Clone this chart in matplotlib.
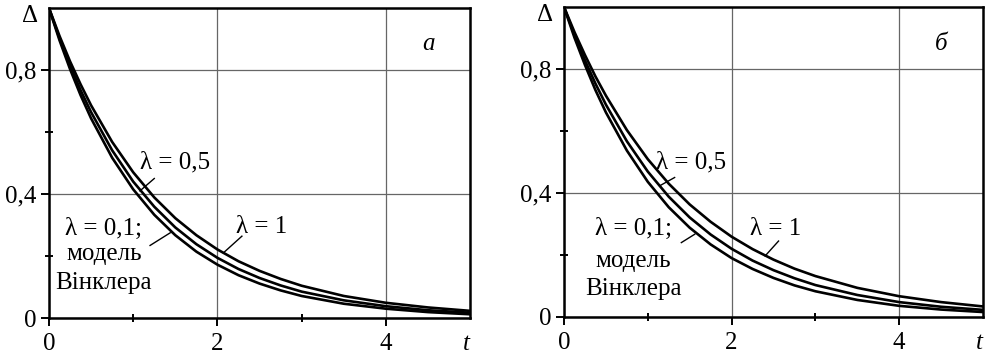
import matplotlib.pyplot as plt

plt.rcParams['font.family'] = 'serif'
plt.rcParams['font.serif'] = ['Liberation Serif', 'DejaVu Serif']
plt.rcParams['font.size'] = 18
FONT = ['Liberation Serif', 'DejaVu Serif']

# time points
t = [0, 0.125, 0.25, 0.375, 0.5, 0.75, 1.0, 1.25, 1.5, 1.75, 2.0, 2.25, 2.5, 2.75, 3.0, 3.5, 4.0, 4.5, 5.0]

# panel a
a_low = [1.0, 0.896, 0.803, 0.719, 0.644, 0.517, 0.415, 0.333, 0.267, 0.214, 0.172, 0.138, 0.111, 0.089, 0.071, 0.046, 0.030, 0.019, 0.012]
a_mid = [1.0, 0.903, 0.815, 0.735, 0.664, 0.541, 0.440, 0.359, 0.292, 0.238, 0.194, 0.158, 0.129, 0.105, 0.085, 0.057, 0.038, 0.025, 0.017]
a_up = [1.0, 0.910, 0.828, 0.754, 0.686, 0.568, 0.470, 0.389, 0.322, 0.267, 0.221, 0.183, 0.152, 0.126, 0.104, 0.071, 0.049, 0.034, 0.023]

# panel б
b_low = [1.0, 0.901, 0.813, 0.732, 0.660, 0.537, 0.436, 0.354, 0.288, 0.234, 0.190, 0.155, 0.126, 0.102, 0.083, 0.055, 0.036, 0.024, 0.016]
b_mid = [1.0, 0.910, 0.828, 0.753, 0.685, 0.567, 0.469, 0.388, 0.321, 0.266, 0.220, 0.182, 0.151, 0.125, 0.103, 0.071, 0.048, 0.033, 0.023]
b_up = [1.0, 0.919, 0.845, 0.776, 0.714, 0.603, 0.509, 0.430, 0.363, 0.307, 0.259, 0.219, 0.185, 0.156, 0.132, 0.094, 0.067, 0.048, 0.034]

xticks = [0, 2, 4]
yticks = [0, 0.4, 0.8]
ytick_labels = ["0", "0,4", "0,8"]

fig = plt.figure(figsize=(9.85, 3.59), dpi=100)
ax1 = fig.add_axes([0.0497, 0.1142, 0.4277, 0.8635])
ax2 = fig.add_axes([0.5726, 0.117, 0.4254, 0.8635])


def txt(ax, x, y, s, **kw):
    ax.text(x, y, s, ha='center', va='center', family=FONT, fontsize=18, **kw)


def setup(ax):
    ax.set_xlim(0, 5)
    ax.set_ylim(0, 1)
    ax.set_xticks(xticks)
    ax.set_xticklabels([str(v) for v in xticks], family=FONT, fontsize=18)
    ax.set_yticks(yticks)
    ax.set_yticklabels(ytick_labels, family=FONT, fontsize=18)
    ax.set_xticks([1, 3], minor=True)
    ax.set_yticks([0.2, 0.6], minor=True)
    ax.tick_params(which='major', direction='out', length=6, width=1.4)
    ax.tick_params(which='minor', direction='inout', length=6, width=1.4)
    ax.tick_params(axis='x', pad=5)
    ax.tick_params(axis='y', pad=3)
    ax.grid(True, which='major', color='#666666', linewidth=0.9)
    for s in ax.spines.values():
        s.set_linewidth(1.8)
        s.set_color('black')
    txt(ax, -0.23, 0.975, "Δ", clip_on=False)
    txt(ax, 4.96, -0.085, "t", style='italic', clip_on=False)


def curves(ax, low, mid, up):
    for y in (low, mid, up):
        ax.plot(t, y, color='black', linewidth=1.9)


setup(ax1)
curves(ax1, a_low, a_mid, a_up)
txt(ax1, 1.5, 0.503, "λ = 0,5")
ax1.plot([1.25, 1.08], [0.45, 0.41], color='black', lw=1.0)
txt(ax1, 2.53, 0.295, "λ = 1")
ax1.plot([2.29, 2.07], [0.264, 0.21], color='black', lw=1.0)
txt(ax1, 0.65, 0.286, "λ = 0,1;")
txt(ax1, 0.65, 0.205, "модель")
txt(ax1, 0.65, 0.113, "Вінклера")
ax1.plot([1.2, 1.44], [0.234, 0.275], color='black', lw=1.0)
txt(ax1, 4.5, 0.884, "a", style='italic')

setup(ax2)
curves(ax2, b_low, b_mid, b_up)
txt(ax2, 1.52, 0.499, "λ = 0,5")
ax2.plot([1.32, 1.14], [0.45, 0.423], color='black', lw=1.0)
txt(ax2, 2.53, 0.283, "λ = 1")
ax2.plot([2.56, 2.40], [0.245, 0.197], color='black', lw=1.0)
txt(ax2, 0.83, 0.283, "λ = 0,1;")
txt(ax2, 0.83, 0.18, "модель")
txt(ax2, 0.83, 0.089, "Вінклера")
ax2.plot([1.40, 1.56], [0.24, 0.267], color='black', lw=1.0)
txt(ax2, 4.5, 0.882, "б", style='italic')

fig.savefig("out.png", dpi=100)
